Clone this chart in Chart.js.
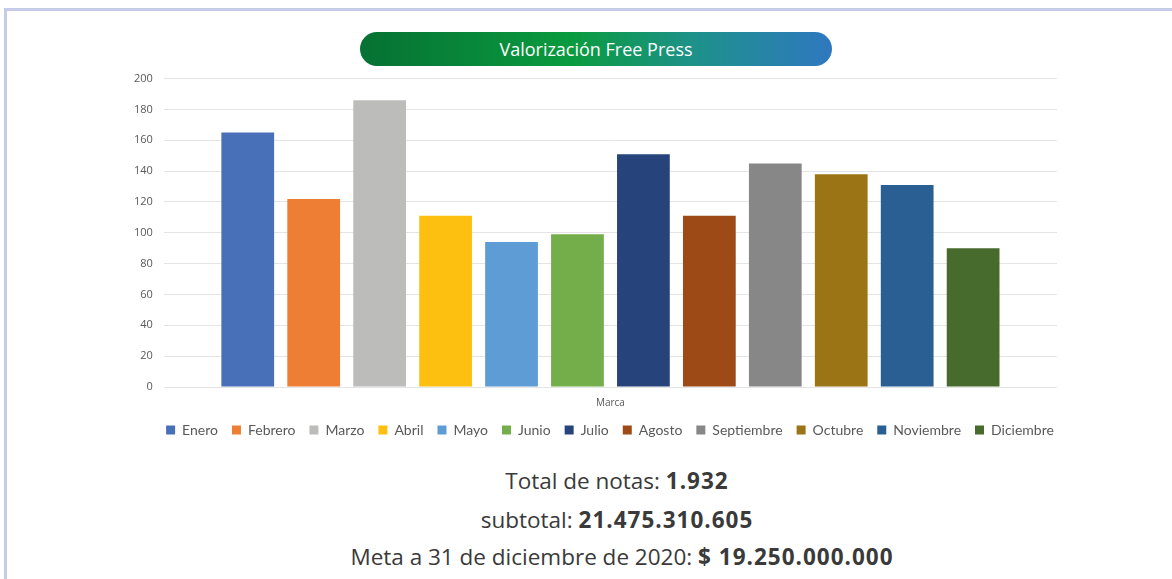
<!DOCTYPE html>
<html>
<head>
<meta charset="utf-8">
<script src="https://cdn.jsdelivr.net/npm/chart.js@4/dist/chart.umd.min.js"></script>
<style>
  body { margin: 0; background: #fff; width: 1172px; height: 579px; overflow: hidden; position: relative; font-family: "Open Sans", sans-serif; }
  .edge-top { position: absolute; left: 4px; top: 8px; width: 1168px; height: 3px; background: #c5cbe9; }
  .edge-left { position: absolute; left: 4px; top: 8px; width: 3px; height: 571px; background: #c5cbe9; }
  .pill { position: absolute; left: 360px; top: 32px; width: 472px; height: 34px; border-radius: 17px;
          background: linear-gradient(to right, #067133 0%, #0a9b3f 45%, #1d9288 70%, #2f78c0 100%);
          color: #fff; font-family: "Open Sans", sans-serif; font-size: 18px; line-height: 34px; text-align: center; }
  .wrap { position: absolute; left: 123px; top: 61px; width: 974px; height: 386px; }
  .info { position: absolute; left: 0; width: 1234px; text-align: center; color: #3a3a3a; font-size: 22.5px; }
  .info b { font-weight: 700; letter-spacing: 1px; }
</style>
</head>
<body>
<div class="edge-top"></div>
<div class="edge-left"></div>
<div class="pill">Valorización Free Press</div>
<div class="wrap"><canvas id="mycanvas"></canvas></div>
<div class="info" style="top:465px">Total de notas: <b>1.932</b></div>
<div class="info" style="top:504px">subtotal: <b>21.475.310.605</b></div>
<div class="info" style="top:541px; left:5px">Meta a 31 de diciembre de 2020: <b>$ 19.250.000.000</b></div>
<script>
var categories = ['Marca'];
var months = ['Enero', 'Febrero', 'Marzo', 'Abril', 'Mayo', 'Junio', 'Julio', 'Agosto', 'Septiembre', 'Octubre', 'Noviembre', 'Diciembre'];
var notas = [165, 122, 186, 111, 94, 99, 151, 111, 145, 138, 131, 90];
var colors = ['#4770b8', '#ee7e33', '#bcbcbb', '#fdc010', '#5d9cd5', '#73ae4b', '#26447b', '#9d4a17', '#878787', '#9a7415', '#295f93', '#466b2d'];
var yTicks = [0, 20, 40, 60, 80, 100, 120, 140, 160, 180, 200];

var datasets = [];
for (var i in months) {
    datasets.push({
        label: months[i],
        data: [notas[i]],
        backgroundColor: colors[i],
        borderWidth: 0,
        categoryPercentage: 0.886,
        barPercentage: 0.8
    });
}

var ctx = document.getElementById('mycanvas');
var BarGraph = new Chart(ctx, {
    type: 'bar',
    data: { labels: categories, datasets: datasets },
    options: {
        responsive: true,
        maintainAspectRatio: false,
        animation: false,
        layout: { padding: 0 },
        plugins: {
            tooltip: { enabled: false },
            legend: {
                position: 'bottom',
                labels: { boxWidth: 9, boxHeight: 9, padding: 14, color: '#595959',
                          font: { family: 'Lato, "Open Sans", sans-serif', size: 14 } }
            }
        },
        scales: {
            x: {
                grid: { display: false },
                border: { display: false },
                ticks: { color: '#595959', font: { size: 10, family: '"Open Sans", sans-serif' }, padding: 2 },
                afterFit: function(scale) { scale.height -= 2; }
            },
            y: {
                min: 0, max: 200,
                afterBuildTicks: function(axis) { axis.ticks = yTicks.map(function(v) { return { value: v }; }); },
                grid: { color: '#e4e4e4', drawTicks: false },
                border: { display: false },
                ticks: { color: '#595959', font: { size: 11, family: '"Open Sans", sans-serif' }, padding: 11 }
            },
            // empty right axis, only so the legend is centred under the plot
            y2: {
                position: 'right',
                grid: { display: false },
                border: { display: false },
                ticks: { display: false },
                afterFit: function(scale) { scale.width = 40; }
            }
        }
    }
});
</script>
</body>
</html>
